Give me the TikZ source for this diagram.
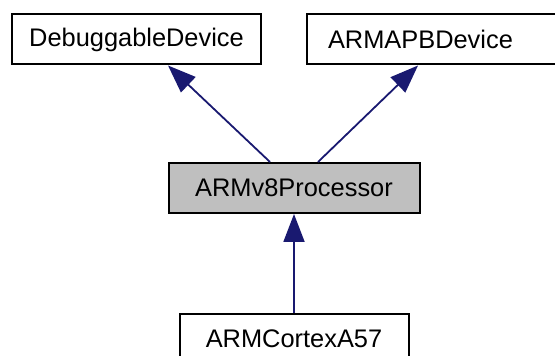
\documentclass[tikz,border=0pt]{standalone}
\usepackage{fontspec}
\setmainfont{Liberation Sans}
\usetikzlibrary{arrows.meta,positioning}
\definecolor{edgeblue}{HTML}{191970}
\definecolor{boxgray}{HTML}{BFBFBF}

\begin{document}
\begin{tikzpicture}[x=0.5pt,y=-0.5pt,
    cls/.style={rectangle, draw, line width=1pt, minimum height=25pt, inner sep=0pt, font=\fontsize{12.7}{14}\selectfont},
    inherit/.style={-{Triangle[length=14pt,width=10.5pt]}, line width=0.9pt, color=edgeblue}
]
    \useasboundingbox (0,0) rectangle (555,356);
    \clip (0,0) rectangle (555,356);

    \node[cls, minimum width=124.5pt] (dbg) at (136.5,39.5) {DebuggableDevice};
    \node[cls, anchor=west, text width=109pt, inner xsep=10.5pt, align=left] (apb) at (306,39.5) {ARMAPBDevice};

    \node[cls, fill=boxgray, minimum width=125.5pt] (v8) at (294,188) {ARMv8Processor};
    \node[cls, minimum width=114.5pt, below=49.5pt of v8] (a57) {ARMCortexA57};

    \draw[inherit] ([xshift=-12pt]v8.north) -- ([xshift=15.75pt]dbg.south);
    \draw[inherit] ([xshift=12pt]v8.north) -- ([xshift=56pt]apb.south west);
    \draw[inherit] (a57.north) -- (v8.south);
\end{tikzpicture}
\end{document}
